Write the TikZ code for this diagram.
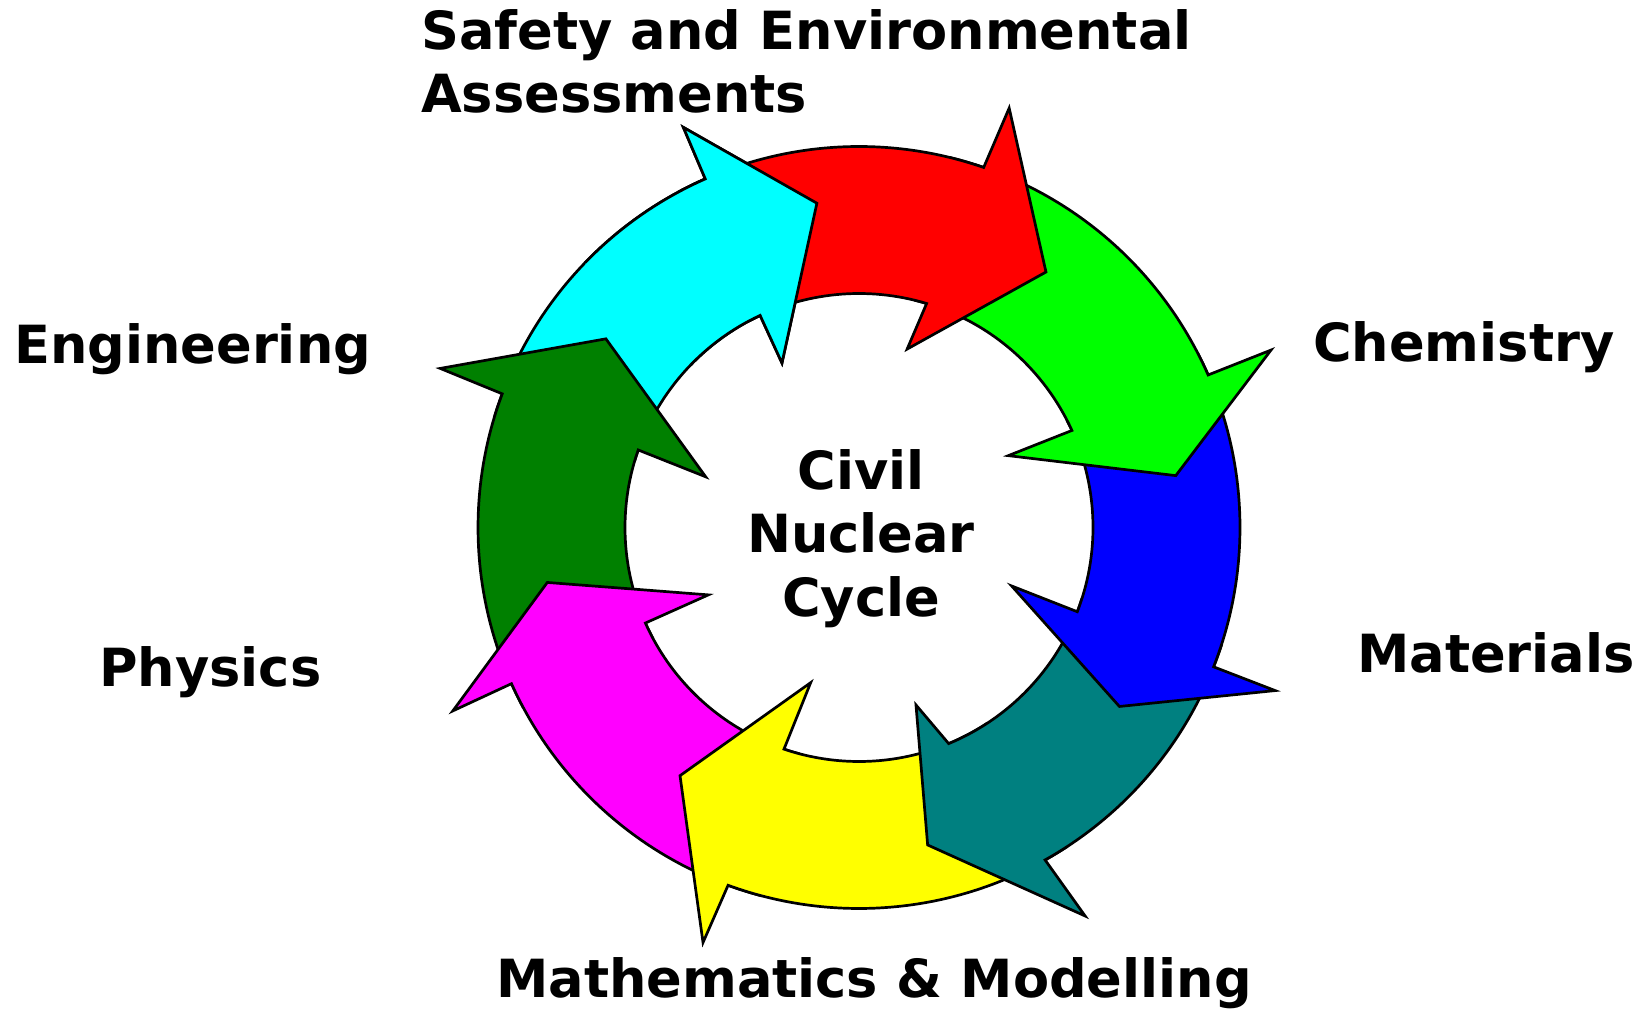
\documentclass[tikz,border=0pt]{standalone}
\usepackage{fontspec}
\setmainfont{DejaVu Sans}
\definecolor{cyA}{RGB}{0,255,255}
\definecolor{rdA}{RGB}{255,0,0}
\definecolor{grA}{RGB}{0,255,0}
\definecolor{blA}{RGB}{0,0,255}
\definecolor{tlA}{RGB}{0,128,128}
\definecolor{ylA}{RGB}{255,255,0}
\definecolor{mgA}{RGB}{255,0,255}
\definecolor{dgA}{RGB}{0,128,0}
\def\RingOut{381}
\def\RingIn{234}
\tikzset{
  cyc/.style={draw=black, line width=2.7pt, line join=miter, miter limit=20},
  lbl/.style={font=\fontsize{52.6}{63.5}\selectfont\bfseries, inner sep=0pt, text=black},
}
\newcommand\cyanpath{(163:\RingOut) arc[start angle=163,end angle=113.8,radius=\RingOut] -- (113.7:437) -- (97.4:327) -- (115.1:181.6) -- (115.0:\RingIn) arc[start angle=115.0,end angle=163,radius=\RingIn] -- cycle}
\begin{document}
\begin{tikzpicture}[x=1pt,y=1pt]
\fill[white] (0,0) rectangle (1641,1010);
\useasboundingbox (0,0) rectangle (1641,1010);
\begin{scope}[shift={(859,482.5)}]
  \fill[cyA,cyc] \cyanpath;
  \fill[dgA,cyc] (208:\RingOut) arc[start angle=208,end angle=159.46,radius=\RingOut] -- (159.2:448) -- (143.3:315.7) -- (161.7:161.5) -- (160.65:\RingIn) arc[start angle=160.65,end angle=208,radius=\RingIn] -- cycle;
  \fill[mgA,cyc] (-105:\RingOut) arc[start angle=-105,end angle=-155.8,radius=\RingOut] -- (-155.7:445.7) -- (-170:316.5) -- (-155.9:165) -- (-155.9:\RingIn) arc[start angle=-155.9,end angle=-105,radius=\RingIn] -- cycle;
  \fill[ylA,cyc] (-57:\RingOut) arc[start angle=-57,end angle=-110.1,radius=\RingOut] -- (-110.6:443.4) -- (-125.8:306) -- (-107.3:162.5) -- (-108.7:\RingIn) arc[start angle=-108.7,end angle=-57,radius=\RingIn] -- cycle;
  \fill[tlA,cyc] (-18:\RingOut) arc[start angle=-18,end angle=-60.76,radius=\RingOut] -- (-59.8:449.5) -- (-77.8:324.8) -- (-72.2:186.4) -- (-67.46:\RingIn) arc[start angle=-67.46,end angle=-18,radius=\RingIn] -- cycle;
  \fill[blA,cyc] (27:\RingOut) arc[start angle=27,end angle=-21.45,radius=\RingOut] -- (-21.4:447) -- (-34.5:316) -- (-20.96:163.5) -- (-21.1:\RingIn) arc[start angle=-21.1,end angle=27,radius=\RingIn] -- cycle;
  \fill[grA,cyc] (76:\RingOut) arc[start angle=76,end angle=23.6,radius=\RingOut] -- (23.3:448.6) -- (9.3:321) -- (25.7:165.7) -- (24.5:\RingIn) arc[start angle=24.5,end angle=76,radius=\RingIn] -- cycle;
  \fill[rdA,cyc] (118:\RingOut) arc[start angle=118,end angle=70.9,radius=\RingOut] -- (70.3:445.5) -- (53.8:316.6) -- (74.9:184.8) -- (73.2:\RingIn) arc[start angle=73.2,end angle=118,radius=\RingIn] -- cycle;
  \begin{scope}
    \clip (0,0) -- (86:600) -- (100:600) -- (112:600) -- (124:600) -- (136:600) -- cycle;
    \fill[cyA,cyc] \cyanpath;
  \end{scope}
\end{scope}
\node[lbl, anchor=base west, align=left] (safety) at (421,897) {Safety and Environmental\\Assessments};
\node[lbl, anchor=base west] (eng) at (14,646) {Engineering};
\node[lbl, anchor=base west] (chem) at (1313,648) {Chemistry};
\node[lbl, anchor=base west] (mat) at (1357,337) {Materials};
\node[lbl, anchor=base west] (phys) at (99,323) {Physics};
\node[lbl, anchor=base west] (math) at (496,13) {Mathematics \& Modelling};
\node[lbl, anchor=base, align=center] (civil) at (861,393.5) {Civil\\Nuclear\\Cycle};
\end{tikzpicture}
\end{document}
